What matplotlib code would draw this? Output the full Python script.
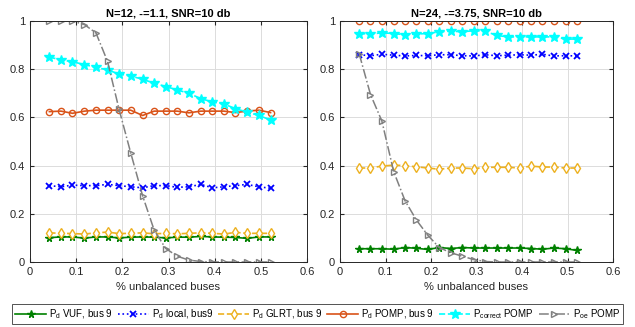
import numpy as np
import matplotlib.pyplot as plt

plt.rcParams['font.family'] = ['Liberation Sans', 'DejaVu Sans']

x = [0.042, 0.067, 0.092, 0.118, 0.143, 0.168, 0.193, 0.218, 0.244, 0.269,
     0.294, 0.319, 0.344, 0.370, 0.395, 0.420, 0.445, 0.470, 0.496, 0.521]

# N=12
vuf_12 = [0.101, 0.104, 0.104, 0.099, 0.104, 0.104, 0.100, 0.103, 0.104, 0.103,
          0.100, 0.103, 0.103, 0.106, 0.104, 0.103, 0.102, 0.098, 0.104, 0.104]
local_12 = [0.317, 0.312, 0.319, 0.317, 0.317, 0.322, 0.317, 0.312, 0.308, 0.317,
            0.317, 0.310, 0.312, 0.322, 0.308, 0.312, 0.317, 0.322, 0.312, 0.306]
glrt_12 = [0.121, 0.119, 0.118, 0.116, 0.121, 0.124, 0.118, 0.119, 0.121, 0.117,
           0.119, 0.117, 0.119, 0.121, 0.119, 0.116, 0.123, 0.119, 0.119, 0.119]
pomp_12 = [0.624, 0.626, 0.617, 0.626, 0.630, 0.630, 0.630, 0.630, 0.608, 0.626,
           0.626, 0.626, 0.619, 0.626, 0.626, 0.626, 0.620, 0.626, 0.630, 0.620]
corr_12 = [0.850, 0.839, 0.831, 0.819, 0.808, 0.797, 0.780, 0.772, 0.758, 0.742,
           0.728, 0.714, 0.700, 0.678, 0.664, 0.656, 0.636, 0.622, 0.608, 0.589]
oe_12 = [1.0, 1.0, 1.0, 0.985, 0.950, 0.832, 0.633, 0.454, 0.274, 0.132,
         0.056, 0.024, 0.008, 0.002, 0.0, 0.0, 0.0, 0.0, 0.0, 0.0]

# N=24
vuf_24 = [0.055, 0.055, 0.055, 0.053, 0.060, 0.057, 0.052, 0.060, 0.056, 0.060,
          0.058, 0.058, 0.058, 0.058, 0.058, 0.056, 0.053, 0.058, 0.055, 0.048]
local_24 = [0.860, 0.856, 0.862, 0.858, 0.855, 0.857, 0.856, 0.860, 0.860, 0.856,
            0.855, 0.860, 0.856, 0.858, 0.860, 0.858, 0.862, 0.855, 0.856, 0.855]
glrt_24 = [0.390, 0.390, 0.398, 0.402, 0.400, 0.395, 0.390, 0.385, 0.390, 0.390,
           0.387, 0.393, 0.393, 0.393, 0.390, 0.398, 0.394, 0.394, 0.390, 0.390]
pomp_24 = [1.0] * 20
corr_24 = [0.948, 0.946, 0.951, 0.948, 0.943, 0.946, 0.948, 0.955, 0.958, 0.955,
           0.960, 0.958, 0.940, 0.934, 0.934, 0.934, 0.934, 0.934, 0.925, 0.925]
oe_24 = [0.865, 0.695, 0.585, 0.375, 0.254, 0.174, 0.111, 0.060, 0.038, 0.024,
         0.010, 0.002, 0.0, 0.0, 0.0, 0.0, 0.0, 0.0, 0.0, 0.0]

titles = ['N=12, -=1.1, SNR=10 db', 'N=24, -=3.75, SNR=10 db']
labels = ['$\\mathregular{P_d}$ VUF, bus 9', '$\\mathregular{P_d}$ local, bus9',
          '$\\mathregular{P_d}$ GLRT, bus 9', '$\\mathregular{P_d}$ POMP, bus 9',
          '$\\mathregular{P_{correct}}$ POMP', '$\\mathregular{P_{oe}}$ POMP']

fig = plt.figure(figsize=(6.35, 3.27), dpi=100)
ax1 = fig.add_axes([30/635, 65/327, 277/635, 241/327])
ax2 = fig.add_axes([340/635, 65/327, 273/635, 241/327])

def draw(ax, vuf, local, glrt, pomp, corr, oe, title):
    ax.plot(x, vuf, '-', color='#008000', marker='*', ms=5.5, lw=1.2, label=labels[0])
    ax.plot(x, local, ':', color='#0000ff', marker='x', ms=4.5, mew=1.3, lw=1.2, label=labels[1])
    ax.plot(x, glrt, '--', color='#EDB120', marker='d', ms=5, mfc='white', mew=1, lw=1.2, label=labels[2])
    ax.plot(x, pomp, '-', color='#D95319', marker='o', ms=4.5, mfc='none', mew=1, lw=1.2, label=labels[3])
    ax.plot(x, corr, '--', color='#00ffff', marker='*', ms=7, lw=1.2, label=labels[4])
    ax.plot(x, oe, '-.', color='#808080', marker='>', ms=5, mfc='none', mew=1, lw=1.1, label=labels[5])
    ax.set_xlim(0, 0.6)
    ax.set_ylim(0, 1)
    ax.set_xticks([0, 0.1, 0.2, 0.3, 0.4, 0.5, 0.6])
    ax.set_xticklabels(['0', '0.1', '0.2', '0.3', '0.4', '0.5', '0.6'])
    ax.set_yticks([0, 0.2, 0.4, 0.6, 0.8, 1])
    ax.set_yticklabels(['0', '0.2', '0.4', '0.6', '0.8', '1'])
    ax.grid(True, color='#dcdcdc', lw=0.7)
    ax.set_axisbelow(True)
    ax.tick_params(direction='in', top=True, right=True, labelsize=8, colors='#262626', length=3)
    for s in ax.spines.values():
        s.set_color('#262626')
        s.set_linewidth(0.7)
    ax.set_title(title, fontsize=8, fontweight='bold', pad=3)
    ax.set_xlabel('% unbalanced buses', fontsize=8, color='#262626', labelpad=4)

draw(ax1, vuf_12, local_12, glrt_12, pomp_12, corr_12, oe_12, titles[0])
draw(ax2, vuf_24, local_24, glrt_24, pomp_24, corr_24, oe_24, titles[1])

h, l = ax1.get_legend_handles_labels()
leg = fig.legend(h, l, loc='center', bbox_to_anchor=(317.5/635, 1 - 314/327), ncol=6,
                 fontsize=7, frameon=True, fancybox=False, handlelength=3.2,
                 columnspacing=0.5, handletextpad=0.3, borderpad=0.3)
leg.get_frame().set_edgecolor('#262626')
leg.get_frame().set_linewidth(0.7)

fig.savefig('out.png', dpi=100)
